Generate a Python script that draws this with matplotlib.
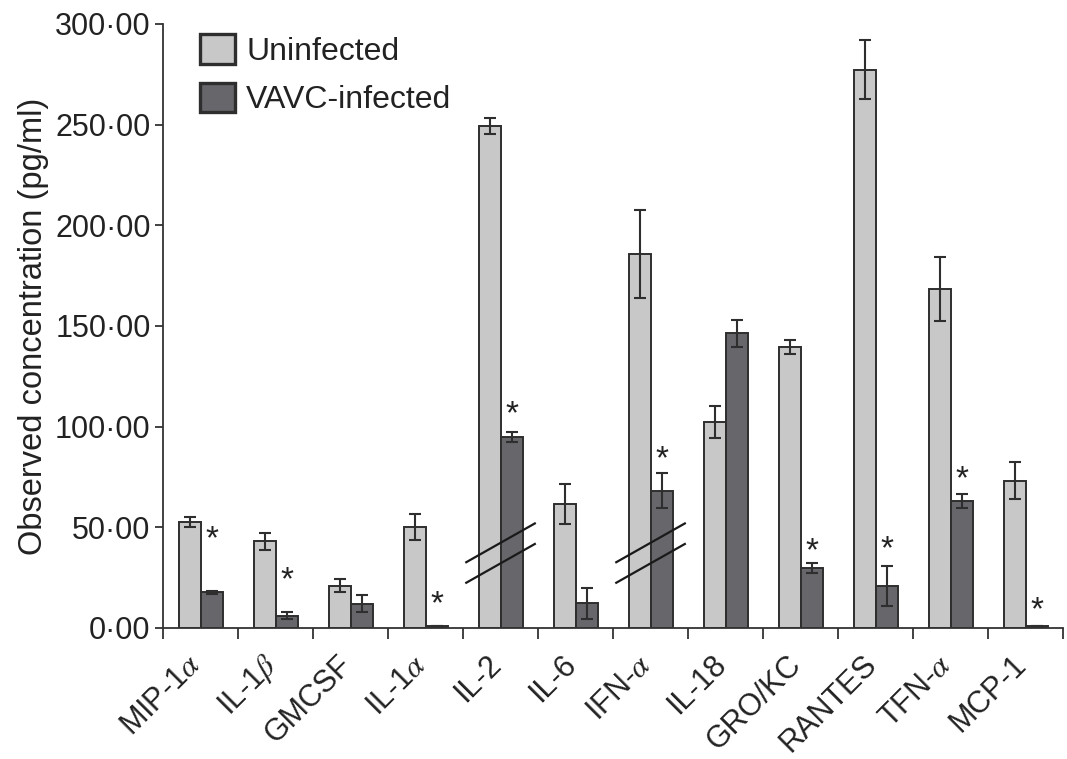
import matplotlib
matplotlib.use('Agg')
import matplotlib.pyplot as plt
import matplotlib.transforms as mtransforms
from matplotlib.ticker import FuncFormatter, FixedLocator
import numpy as np

plt.rcParams['font.family'] = ['Liberation Sans', 'DejaVu Sans']
plt.rcParams['mathtext.fontset'] = 'stix'

cytokines = ['MIP-1$\\alpha$', 'IL-1$\\beta$', 'GMCSF', 'IL-1$\\alpha$', 'IL-2', 'IL-6',
             'IFN-$\\alpha$', 'IL-18', 'GRO/KC', 'RANTES', 'TFN-$\\alpha$', 'MCP-1']
uninfected = [52.5, 43.0, 21.0, 50.2, 249.5, 61.6, 185.8, 102.2, 139.6, 277.3, 168.4, 73.1]
uninfected_err = [2.5, 4.3, 3.2, 6.6, 4.0, 9.7, 22.0, 8.0, 3.5, 14.8, 15.7, 9.1]
infected = [17.8, 6.2, 12.0, 0.8, 94.9, 12.3, 68.2, 146.5, 29.7, 21.0, 63.0, 1.0]
infected_err = [0.7, 1.5, 4.3, 0.0, 2.5, 7.6, 8.6, 6.7, 2.4, 10.0, 3.5, 0.0]
# star position (y) above infected bar, None = no star
star_y = [44, 23.5, None, 11.4, 106, None, 83.5, None, 38, 39, 73.7, 8.4]
# groups with axis-break marks
break_groups = [4, 6]

light = '#c8c8c8'
dark = '#67666b'
edge = '#2e2e2e'

fig = plt.figure(figsize=(10.67, 7.59), dpi=100)
ax = fig.add_axes([0.1528, 0.1726, 0.8435, 0.7958])

x = np.arange(len(cytokines)) + 0.5
w = 0.293
ax.bar(x - w / 2, uninfected, w, color=light, edgecolor=edge, linewidth=1.4,
       label='Uninfected', zorder=2)
ax.bar(x + w / 2, infected, w, color=dark, edgecolor=edge, linewidth=1.4,
       label='VAVC-infected', zorder=2)
ax.errorbar(x - w / 2, uninfected, yerr=uninfected_err, fmt='none', ecolor=edge,
            elinewidth=1.5, capsize=4, capthick=1.5, zorder=3)
ax.errorbar(x + w / 2, infected, yerr=infected_err, fmt='none', ecolor=edge,
            elinewidth=1.5, capsize=4, capthick=1.5, zorder=3)

for i, sy in enumerate(star_y):
    if sy is not None:
        ax.text(x[i] + w / 2, sy, '*', ha='center', va='center', fontsize=24,
                color='#222222', zorder=4)

for g in break_groups:
    for y0 in (32.4, 22.2):
        ax.plot([x[g] - 0.47, x[g] + 0.47], [y0, y0 + 19.8], color='#1a1a1a',
                lw=1.6, zorder=5, solid_capstyle='butt')

ax.set_xlim(0, len(cytokines))
ax.set_ylim(0, 300)
ax.spines['top'].set_visible(False)
ax.spines['right'].set_visible(False)
for s in ('left', 'bottom'):
    ax.spines[s].set_linewidth(1.3)
    ax.spines[s].set_color('#333333')

ax.set_yticks(np.arange(0, 301, 50))
ax.yaxis.set_major_formatter(FuncFormatter(lambda v, p: f'{v:.2f}'.replace('.', '\u00b7')))
ax.tick_params(axis='y', direction='out', length=6, width=1.3, labelsize=22,
               color='#333333', pad=3, labelcolor='#222222')

ax.xaxis.set_major_locator(FixedLocator(np.arange(len(cytokines) + 1)))
ax.xaxis.set_major_formatter(FuncFormatter(lambda v, p: ''))
ax.set_xticks(x, minor=True)
ax.set_xticklabels(cytokines, minor=True, rotation=45, ha='right',
                   rotation_mode='anchor', fontsize=22, color='#222222')
ax.tick_params(axis='x', which='major', direction='out', length=8, width=1.3,
               color='#333333')
ax.tick_params(axis='x', which='minor', length=0, pad=12)
shift = mtransforms.ScaledTranslation(-14 / 100, -5 / 100, fig.dpi_scale_trans)
for lab in ax.get_xticklabels(minor=True):
    lab.set_transform(lab.get_transform() + shift)

ax.set_ylabel('Observed concentration (pg/ml)', fontsize=23.5, labelpad=4,
              color='#222222')

ax.legend(loc='upper left', bbox_to_anchor=(0.009, 1.031), frameon=False, fontsize=23,
          handlelength=1.1, handleheight=1.05, handletextpad=0.35, labelspacing=0.5,
          labelcolor='#222222')
for p in ax.get_legend().get_patches():
    p.set_linewidth(2.4)

fig.savefig('out.png', dpi=100)
plt.close()
